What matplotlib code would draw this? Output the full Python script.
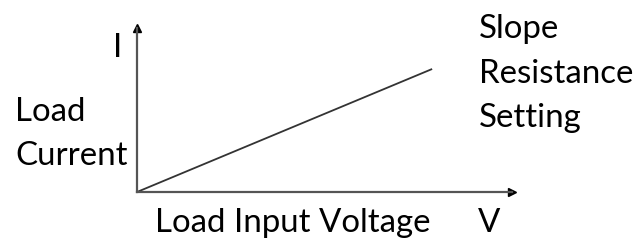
import matplotlib
matplotlib.use("Agg")
import matplotlib.pyplot as plt

# conceptual line: load current rises with input voltage (axes fraction units)
voltage = [0.0, 0.787]
current = [0.0, 0.75]

x_label = "Load Input Voltage"
y_label = "Load\nCurrent"
x_unit = "V"
y_unit = "I"
note = "Slope\nResistance\nSetting"

plt.rcParams['font.family'] = ['Lato', 'DejaVu Sans']

fig = plt.figure(figsize=(6.37, 2.4), dpi=100)
ax = fig.add_axes([137 / 637, 48 / 240, 375 / 637, 164 / 240])
ax.set_xlim(0, 1)
ax.set_ylim(0, 1)

ax.plot(voltage, current, color="#333333", lw=1.3, solid_capstyle="butt")

for s in ["top", "right"]:
    ax.spines[s].set_visible(False)
for s in ["left", "bottom"]:
    ax.spines[s].set_color("#555555")
    ax.spines[s].set_linewidth(1.6)
ax.set_xticks([])
ax.set_yticks([])

ax.plot(1, 0, ">", color="black", ms=6, transform=ax.transAxes, clip_on=False)
ax.plot(0, 1, "^", color="black", ms=6, transform=ax.transAxes, clip_on=False)

fs = 23.8
ls = 1.6
fig.text(155 / 637, 1 - 232 / 240, x_label, fontsize=fs, va="baseline", ha="left")
fig.text(478 / 637, 1 - 232 / 240, x_unit, fontsize=fs, va="baseline", ha="left")
fig.text(113 / 637, 1 - 57 / 240, y_unit, fontsize=fs, va="baseline", ha="left")
fig.text(15 / 637, 1 - 165 / 240, y_label, fontsize=fs, va="baseline", ha="left",
         linespacing=ls)
fig.text(479 / 637, 1 - 127 / 240, note, fontsize=fs, va="baseline", ha="left",
         linespacing=ls)

fig.savefig("out.png", dpi=100)
